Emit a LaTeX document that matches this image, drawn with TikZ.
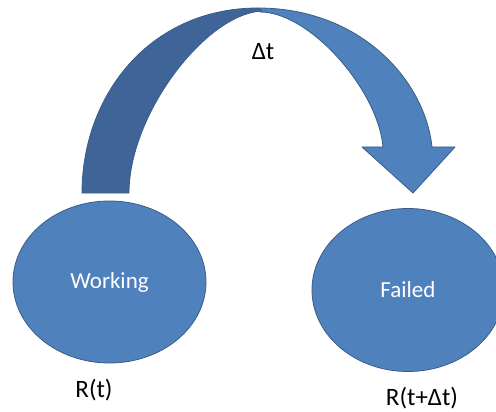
\documentclass[tikz,border=0pt]{standalone}
\usepackage{fontspec}
\setmainfont{Carlito}
\usetikzlibrary{shapes.geometric}
\definecolor{stateblue}{RGB}{79,129,189}
\definecolor{edgeblue}{RGB}{56,93,138}
\definecolor{backblue}{RGB}{63,101,152}

\begin{document}
\begin{tikzpicture}[x=1pt,y=-1pt,
  state/.style={ellipse,draw=edgeblue,fill=stateblue,line width=0.8pt,
    text=white,inner sep=0pt,font=\fontsize{23}{27}\selectfont},
  band/.style={draw=edgeblue,line width=0.8pt,line join=round},
  tag/.style={font=\fontsize{25}{29}\selectfont}]
\useasboundingbox (0,0) rectangle (496,412);
\fill[white] (0,0) rectangle (496,412);

\node[state,minimum width=193pt,minimum height=162pt] (working) at (109.5,282) {Working};
\node[state,minimum width=192pt,minimum height=163pt] (failed) at (408,290) {Failed};

% front half of the arrow, with its head
\draw[band,fill=stateblue] (258,8) .. controls (360,8) and (425,80) .. (432,147)
  -- (455,147) -- (413,193) -- (362,147) -- (383,147)
  .. controls (378,90) and (310,12) .. (260,12) -- cycle;
% back half of the arrow
\draw[band,fill=backblue] (82,193) .. controls (82,95) and (150,8) .. (258,8)
  -- (262,11) .. controls (205,14) and (129,115) .. (129,193) -- cycle;

\node[tag] (dt) at (263,52) {Δt};
\node[tag] (rt) at (94,390) {R(t)};
\node[tag] (rtdt) at (422,398) {R(t+Δt)};
\end{tikzpicture}
\end{document}
